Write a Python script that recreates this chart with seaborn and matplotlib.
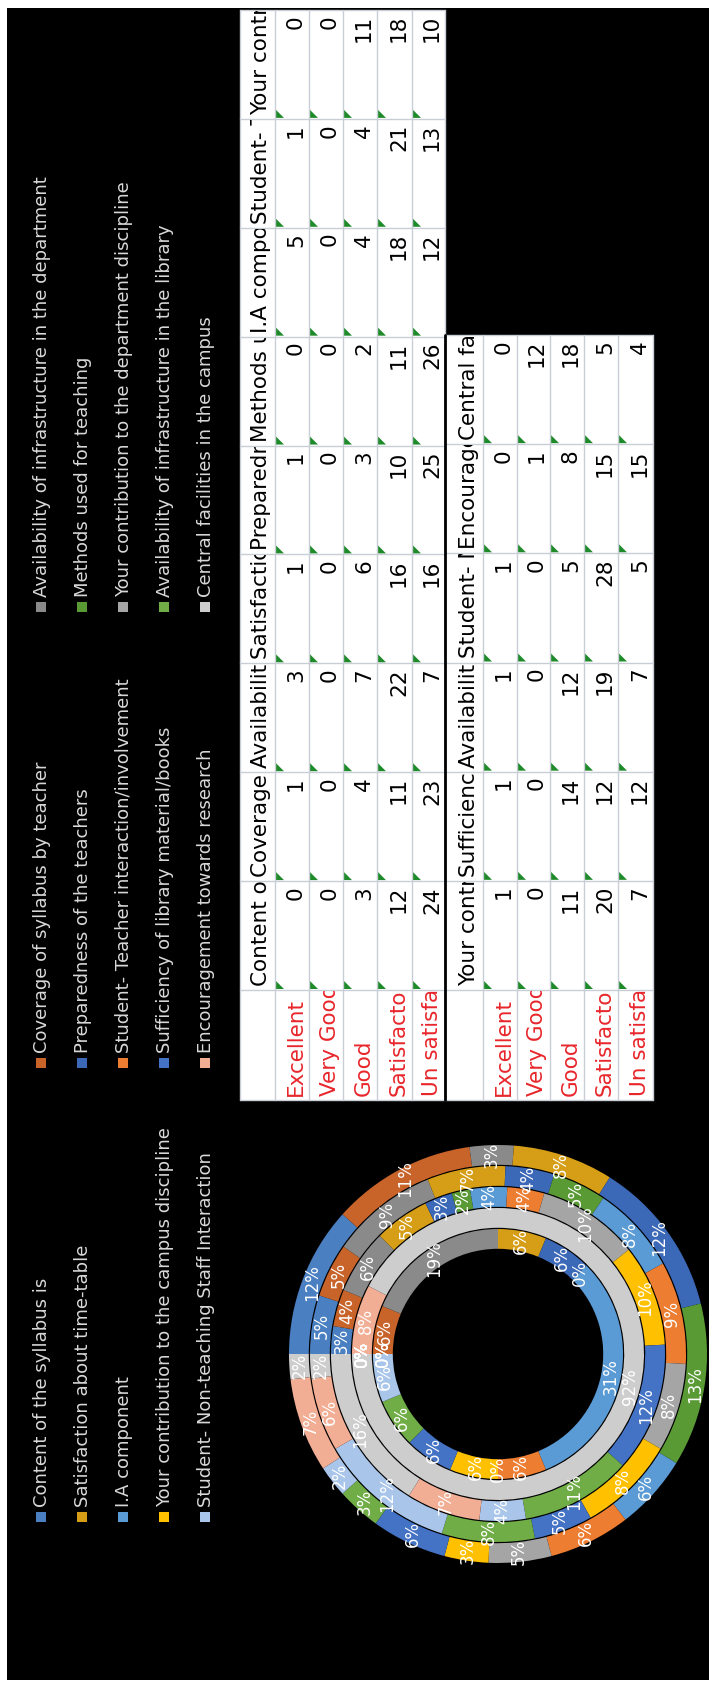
import numpy as np
import pandas as pd
import seaborn as sns
import matplotlib
matplotlib.use("Agg")
import matplotlib.pyplot as plt
from matplotlib.patches import Rectangle, Polygon
from matplotlib.transforms import Bbox

sns.set_theme(style="white")
plt.rcParams["font.family"] = ["DejaVu Sans"]

# ---------------- data ----------------
questions = [
    "Content of the syllabus is",
    "Coverage of syllabus by teacher",
    "Availability of infrastructure in the department",
    "Satisfaction about time-table",
    "Preparedness of the teachers",
    "Methods used for teaching",
    "I.A component",
    "Student- Teacher interaction/involvement",
    "Your contribution to the department discipline",
    "Your contribution to the campus discipline",
    "Sufficiency of library material/books",
    "Availability of infrastructure in the library",
    "Student- Non-teaching Staff Interaction",
    "Encouragement towards research",
    "Central facilities in the campus",
]
ratings = ["Excellent", "Very Good", "Good", "Satisfactory", "Un satisfactory"]

excellent      = [0, 1, 3, 1, 1, 0, 5, 1, 0, 1, 1, 1, 1, 0, 0]
very_good      = [0, 0, 0, 0, 0, 0, 0, 0, 0, 0, 0, 0, 0, 1, 12]
good           = [3, 4, 7, 6, 3, 2, 4, 4, 11, 11, 14, 12, 5, 8, 18]
satisfactory   = [12, 11, 22, 16, 10, 11, 18, 21, 18, 20, 12, 19, 28, 15, 5]
unsatisfactory = [24, 23, 7, 16, 25, 26, 12, 13, 10, 7, 12, 7, 5, 15, 4]

table1_questions = questions[:9]
table2_questions = questions[9:]

question_colors = ["#4A7FC1", "#C8642A", "#8A8A8A", "#D69E17", "#3C68B8", "#5A9A35",
                   "#5B9BD5", "#ED7D31", "#A5A5A5", "#FFC000", "#4472C4", "#70AD47",
                   "#A9C6EA", "#F2AE94", "#CDCDCD"]

df = pd.DataFrame([excellent, very_good, good, satisfactory, unsatisfactory],
                  index=ratings, columns=questions)
palette = sns.color_palette(question_colors)

# ---------------- canvas ----------------
W, H = 709, 1684
fig = plt.figure(figsize=(W / 100, H / 100), dpi=100, facecolor="black")
ax = fig.add_axes([0, 0, 1, 1])
ax.set_xlim(0, W)
ax.set_ylim(H, 0)
ax.axis("off")

ax.add_patch(Rectangle((0, 0), W, 8, facecolor="white", edgecolor="none"))
ax.add_patch(Rectangle((0, 0), 7, H, facecolor="white", edgecolor="none"))
ax.add_patch(Rectangle((0, H - 4), W, 4, facecolor="white", edgecolor="none"))


def clipbox(x0, y0, x1, y1):
    pts = ax.transData.transform([[x0, y0], [x1, y1]])
    return Bbox.from_extents(pts[:, 0].min(), pts[:, 1].min(), pts[:, 0].max(), pts[:, 1].max())


def clipped(t, box):
    t.set_clip_box(box)
    t.set_clip_on(True)
    return t


GRID = "#C9CED6"
RED = "#E8262B"
TFS = 15.5


def draw_table(qs, x_edges, y_top, y_split=990, y_bot=1100):
    ncol = len(qs)
    cw = (y_split - y_top) / ncol
    ax.add_patch(Rectangle((x_edges[0], y_top), x_edges[-1] - x_edges[0], y_bot - y_top,
                           facecolor="white", edgecolor="none"))
    for x in x_edges:
        ax.plot([x, x], [y_top, y_bot], color=GRID, lw=1)
    for j in range(ncol + 1):
        y = y_split - j * cw
        ax.plot([x_edges[0], x_edges[-1]], [y, y], color=GRID, lw=1)
    ax.plot([x_edges[0], x_edges[-1]], [y_bot, y_bot], color=GRID, lw=1)
    for j, q in enumerate(qs):
        yb = y_split - j * cw
        yt = yb - cw
        t = ax.text(x_edges[1] - 8, yb - 4, q, rotation=90, rotation_mode="anchor",
                    ha="left", va="baseline", fontsize=TFS, color="black")
        clipped(t, clipbox(x_edges[0], yt + 1, x_edges[1], yb))
        for r, rating in enumerate(ratings):
            x0, x1 = x_edges[r + 1], x_edges[r + 2]
            ax.text(x1 - 7, yt + 5, str(df.loc[rating, q]), rotation=90, rotation_mode="anchor",
                    ha="right", va="baseline", fontsize=TFS, color="black")
            ax.add_patch(Polygon([[x0 + 1, yb - 1], [x0 + 9, yb - 1], [x0 + 1, yb - 9]],
                                 closed=True, facecolor="#1E8A2A", edgecolor="none"))
    for r, rating in enumerate(ratings):
        x0, x1 = x_edges[r + 1], x_edges[r + 2]
        t = ax.text(x1 - 7, y_bot - 4, rating, rotation=90, rotation_mode="anchor",
                    ha="left", va="baseline", fontsize=TFS, color=RED)
        clipped(t, clipbox(x0, y_split + 1, x1, y_bot))


draw_table(table1_questions, [240, 275, 309, 343, 377, 412, 445], 10)
draw_table(table2_questions, [445, 483, 517, 550, 584, 618, 653], 335)
ax.plot([445, 445], [335, 1100], color="black", lw=2)

# ---------------- legend ----------------
leg_cols_y = [1517, 1063, 607]
leg_rows_x = [41, 82, 123, 164, 205]
for k, q in enumerate(questions):
    row, col = divmod(k, 3)
    cx, cy = leg_rows_x[row], leg_cols_y[col]
    ax.add_patch(Rectangle((cx - 5, cy - 5), 10, 10, facecolor=palette[k], edgecolor="none"))
    ax.text(cx + 1, cy - 10, q, rotation=90, rotation_mode="anchor", ha="left", va="center",
            fontsize=13, color="#D9D9D9")

# ---------------- donut ----------------
cx, cy, R = 498, 1354, 209
hole = 104
size = 2 * R + 24
dax = fig.add_axes([(cx - size / 2) / W, (H - cy - size / 2) / H, size / W, size / H])
step = (R - hole) / 5
ring_values = [excellent, very_good, good, satisfactory, unsatisfactory]
for i, vals in enumerate(ring_values):
    r_out = hole + (i + 1) * step
    w = step - 1.2
    dax.pie(vals, radius=r_out, colors=palette, startangle=180, counterclock=False,
            wedgeprops=dict(width=w, edgecolor="none", linewidth=0),
            autopct=lambda p: f"{p:.0f}%", pctdistance=(r_out - w / 2) / r_out,
            textprops=dict(color="white", fontsize=12, rotation=90))
dax.set_xlim(-size / 2, size / 2)
dax.set_ylim(-size / 2, size / 2)
dax.set_aspect("equal")
dax.axis("off")

fig.savefig("out.png", dpi=100, facecolor="black")
